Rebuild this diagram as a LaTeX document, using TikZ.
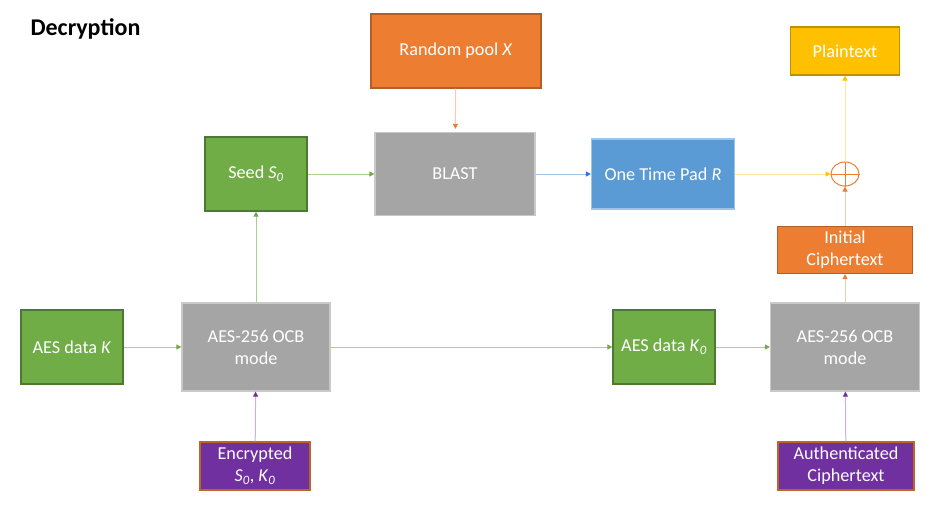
\documentclass[tikz,border=0pt]{standalone}
\usepackage{fontspec}
\setmainfont{Carlito}
\usetikzlibrary{arrows.meta,shapes.geometric}
\definecolor{grn}{HTML}{70AD47}
\definecolor{grnline}{HTML}{A9D18E}
\definecolor{orng}{HTML}{ED7D31}
\definecolor{orngline}{HTML}{F8CBAD}
\definecolor{gry}{HTML}{A5A5A5}
\definecolor{blu}{HTML}{5B9BD5}
\definecolor{bluline}{HTML}{9DC3E6}
\definecolor{ylw}{HTML}{FFC000}
\definecolor{ylwline}{HTML}{FFE699}
\definecolor{prpl}{HTML}{7030A0}
\definecolor{prplline}{HTML}{C9B0DE}
\newcommand\idx[2]{\textit{#1}\textsubscript{\textit{#2}}}
\begin{document}
\begin{tikzpicture}[x=1pt,y=-1pt,
        box/.style={rectangle,inner sep=0pt,line width=1.2pt,text=white,
            align=center,font=\fontsize{18.2}{22}\selectfont},
        greenbox/.style={box,fill=grn,draw=grn!70!black},
        orangebox/.style={box,fill=orng,draw=orng!75!black},
        greybox/.style={box,fill=gry,draw=gry!60!white},
        bluebox/.style={box,fill=blu,draw=bluline},
        yellowbox/.style={box,fill=ylw,draw=ylw!75!black},
        purplebox/.style={box,fill=prpl,draw=orng!80!black},
        link/.style={line width=1pt,-{Triangle[length=5pt,width=5pt,color=#1]}},
    ]
    \useasboundingbox (0,0) rectangle (936,516);
    %% Title
    \node[anchor=west,font=\fontsize{24}{28}\selectfont\bfseries] (title) at (27,29) {Decryption};
    %% Top row
    \node[orangebox,minimum width=170,minimum height=74] (pool) at (456,51) {Random pool \textit{X}};
    \node[greenbox,minimum width=102,minimum height=74] (seed) at (256,174) {Seed \idx{S}{0}};
    \node[greybox,minimum width=160,minimum height=83] (blast) at (455,174) {BLAST};
    \node[bluebox,minimum width=143,minimum height=70] (otp) at (663,174) {One Time Pad \textit{R}};
    \node[yellowbox,minimum width=109,minimum height=48] (plain) at (845,51) {Plaintext};
    \node[ellipse,draw=orng,line width=1pt,minimum width=28,minimum height=24,inner sep=0pt] (xor) at (845,174) {};
    \draw[orng,line width=1pt] (xor.north) -- (xor.south);
    \draw[orng,line width=1pt] (xor.west) -- (xor.east);
    \node[orangebox,minimum width=135,minimum height=47] (init) at (845,250) {Initial\\Ciphertext};
    %% Bottom row
    \node[greenbox,minimum width=102,minimum height=74] (keyK) at (72,347) {AES data \textit{K}};
    \node[greybox,minimum width=148,minimum height=88] (aesL) at (256,347) {AES-256 OCB\\mode};
    \node[greenbox,minimum width=102,minimum height=74] (keyK0) at (664,347) {AES data \idx{K}{0}};
    \node[greybox,minimum width=149,minimum height=88] (aesR) at (845,347) {AES-256 OCB\\mode};
    \node[purplebox,minimum width=110,minimum height=48] (enc) at (255,466) {Encrypted\\\idx{S}{0}, \idx{K}{0}};
    \node[purplebox,minimum width=136,minimum height=48] (auth) at (846,466) {Authenticated\\Ciphertext};
    %% Connectors
    \draw[link=grn,grnline] (keyK) -- (aesL);
    \draw[link=grn,grnline] (aesL) -- (seed);
    \draw[link=grn,grnline] (seed) -- (blast);
    \draw[link=grn,grnline] (aesL) -- (keyK0);
    \draw[link=grn,grnline] (keyK0) -- (aesR);
    \draw[link=orng,orngline,shorten >=3pt] (pool) -- (blast);
    \draw[link=blu!70!blue,bluline] (blast) -- (otp);
    \draw[link=ylw,ylwline] (otp) -- (xor);
    \draw[link=ylw,ylwline] (xor) -- (plain);
    \draw[link=orng,orngline] (init) -- (xor);
    \draw[link=orng,orngline] (aesR) -- (init);
    \draw[link=prpl,prplline] (enc) -- (aesL);
    \draw[link=prpl,prplline] (auth) -- (aesR);
\end{tikzpicture}
\end{document}
